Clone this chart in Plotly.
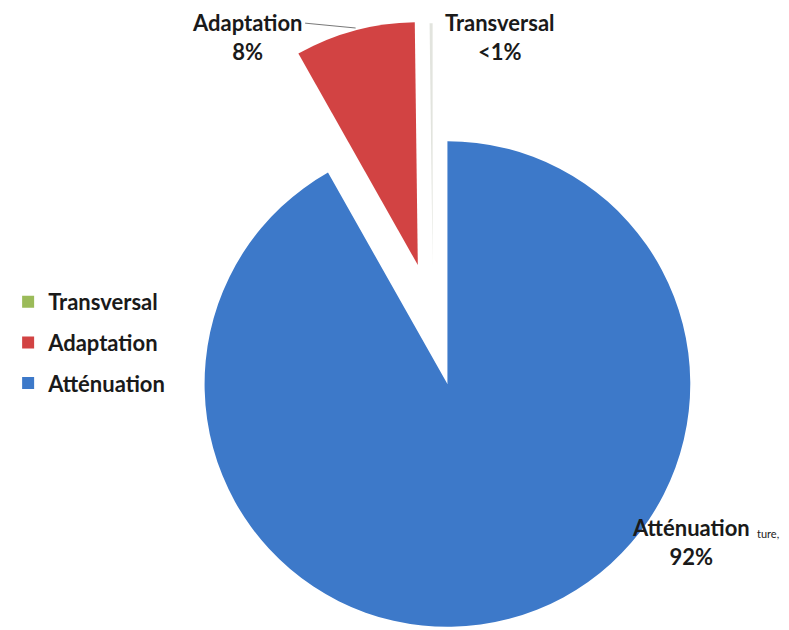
import plotly.graph_objects as go

# ---- data ----
labels = ["Atténuation", "Adaptation", "Transversal"]
values = [92, 8, 0.2]
pct_text = ["92%", "8%", "<1%"]
colors = ["#3d79c9", "#d24343", "#9bbb59"]
legend_order = ["Transversal", "Adaptation", "Atténuation"]

OFF = 8  # page body margin
W, H = 789 - OFF, 630 - OFF
CLEAR = "rgba(0,0,0,0)"


def fx(px):
    return (px - OFF) / W


def fy(py):
    return 1 - (py - OFF) / H


def dom(cx, cy, r):
    return dict(x=[fx(cx - r), fx(cx + r)], y=[fy(cy + r), fy(cy - r)])


R = 246
# slice centres (page pixel layout positions): main pie, pulled Adaptation, pulled Transversal
centres = {"Atténuation": (443, 384), "Adaptation": (413, 265), "Transversal": (428, 266)}
slice_colors = {"Atténuation": colors[0], "Adaptation": colors[1], "Transversal": "#e2e4de"}

fig = go.Figure()
for lab in labels:
    cx, cy = centres[lab]
    cols = [slice_colors[l] if l == lab else CLEAR for l in labels]
    fig.add_trace(go.Pie(
        labels=labels, values=values, sort=False, direction="clockwise", rotation=0,
        marker=dict(colors=cols, line=dict(width=0)),
        textinfo="none", hoverinfo="label+percent", showlegend=False,
        domain=dom(cx, cy, R),
    ))

# legend entries
col_map = dict(zip(labels, colors))
for i, lab in enumerate(legend_order):
    fig.add_trace(go.Scatter(
        x=[None], y=[None], mode="markers", name=lab, legendgroup=lab,
        marker=dict(symbol="square", size=12, color=col_map[lab],
                    line=dict(width=0)),
    ))

FAM = "Lato, Open Sans, sans-serif"
font_lab = dict(family=FAM, size=22, color="#1a1a1a", weight="bold")
txt = {l: f"{l}<br>{p}" for l, p in zip(labels, pct_text)}

annotations = [
    # leader line for Adaptation
    dict(x=fx(350), y=fy(28), xref="paper", yref="paper",
         axref="pixel", ayref="pixel", ax=-52, ay=-5,
         text="", showarrow=True, arrowhead=0, arrowwidth=0.8,
         arrowcolor="#555555"),
    dict(x=fx(240), y=fy(OFF), xref="paper", yref="paper",
         text=txt["Adaptation"], showarrow=False, font=font_lab, align="center",
         xanchor="center", yanchor="top", borderpad=0),
    dict(x=fx(496), y=fy(OFF), xref="paper", yref="paper",
         text=txt["Transversal"], showarrow=False, font=font_lab, align="center",
         xanchor="center", yanchor="top", borderpad=0),
    dict(x=fx(690), y=fy(542), xref="paper", yref="paper",
         text=txt["Atténuation"], showarrow=False, font=font_lab, align="center",
         xanchor="center", yanchor="middle"),
    dict(x=fx(781), y=fy(533), xref="paper", yref="paper",
         text="ture,", showarrow=False, xanchor="right", yanchor="middle",
         font=dict(family=FAM, size=11, color="#222222")),
]

fig.update_layout(
    width=W, height=H,
    margin=dict(l=0, r=0, t=0, b=0),
    paper_bgcolor="white", plot_bgcolor="white",
    xaxis=dict(visible=False), yaxis=dict(visible=False),
    showlegend=True,
    legend=dict(x=fx(-2), y=fy(281), xanchor="left", yanchor="top",
                traceorder="grouped", tracegroupgap=9,
                font=dict(family=FAM, size=22, color="#1a1a1a", weight="bold"),
                bgcolor="rgba(0,0,0,0)"),
    annotations=annotations,
)

fig.write_html("out.html")
